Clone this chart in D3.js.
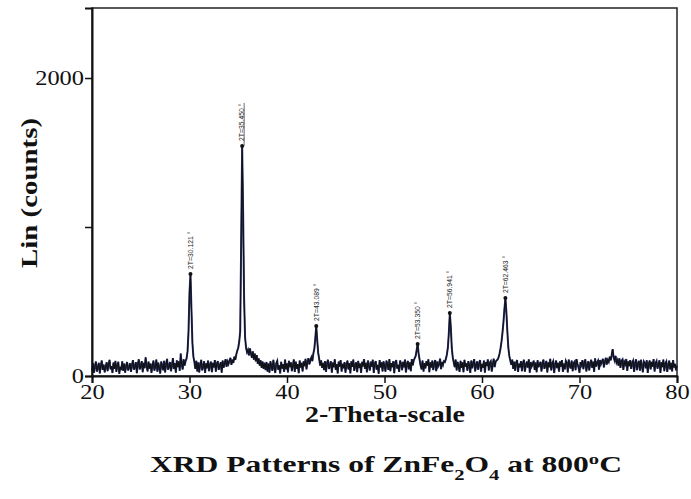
<!DOCTYPE html>
<html>
<head>
<meta charset="utf-8">
<title>XRD Patterns of ZnFe2O4 at 800°C</title>
<script src="https://cdn.jsdelivr.net/npm/d3@7"></script>
<style>
    body { margin: 0; background: #fff; }
    svg { display: block; }
    .peak-label { font-family: 'Liberation Sans', Arial, sans-serif; font-size: 6.8px; fill: #222; }
    .title { font-family: 'Liberation Serif', 'Times New Roman', serif; font-weight: bold; fill: #111; }
</style>
</head>
<body>
<svg></svg>
<script>
// 2-theta grid of the scan
const THETA_START = 20,
    THETA_STEP = 0.1;

// counts, one row per 2 degrees
const counts = [
    38, 85, 22, 64, 97, 30, 55, 88, 18, 70, 104, 41, 76, 25, 60, 92, 33, 80, 108, 45,
    66, 20, 90, 48, 101, 28, 73, 95, 15, 62, 40, 99, 35, 84, 23, 68, 94, 37, 58, 86,
    27, 75, 106, 42, 61, 93, 19, 80, 112, 44, 67, 100, 26, 88, 52, 125, 70, 31, 96, 50,
    83, 21, 71, 103, 36, 64, 110, 29, 90, 55, 17, 97, 68, 39, 102, 24, 78, 115, 43, 65,
    94, 32, 74, 120, 47, 86, 23, 105, 60, 98, 35, 150, 79, 44, 112, 70, 101, 118, 165, 300,
    560, 685, 450, 220, 130, 95, 48, 102, 30, 91, 24, 77, 108, 38, 63, 99, 21, 85, 52, 104,
    33, 74, 96, 26, 89, 57, 107, 29, 81, 100, 41, 69, 93, 22, 103, 56, 84, 113, 62, 97,
    80, 104, 122, 75, 110, 88, 130, 108, 145, 170, 190, 230, 300, 900, 1544, 1100, 520, 260, 190, 160,
    175, 138, 185, 150, 122, 165, 110, 150, 98, 140, 82, 118, 70, 105, 55, 96, 48, 88, 40, 94,
    30, 83, 22, 99, 64, 35, 108, 58, 20, 86, 101, 42, 72, 18, 95, 50, 79, 28, 110, 45,
    85, 24, 102, 60, 92, 33, 71, 111, 27, 96, 49, 80, 19, 104, 57, 88, 31, 99, 66, 115,
    45, 94, 120, 78, 106, 125, 100, 150, 180, 250, 336, 240, 155, 115, 70, 105, 55, 88, 40, 100,
    28, 84, 109, 47, 72, 99, 23, 90, 59, 112, 41, 80, 17, 97, 63, 106, 30, 82, 52, 93,
    22, 76, 103, 44, 87, 18, 99, 61, 110, 34, 73, 91, 26, 101, 54, 84, 20, 95, 65, 113,
    48, 89, 25, 104, 70, 37, 96, 62, 109, 21, 82, 100, 43, 74, 16, 107, 58, 92, 31, 98,
    67, 29, 103, 79, 41, 114, 33, 86, 60, 99, 19, 90, 106, 50, 75, 27, 104, 83, 39, 95,
    58, 110, 24, 80, 101, 45, 92, 32, 113, 71, 105, 120, 135, 175, 215, 150, 110, 70, 45, 104,
    30, 87, 51, 99, 69, 112, 26, 91, 57, 103, 40, 82, 107, 33, 97, 64, 79, 116, 46, 94,
    75, 100, 95, 115, 145, 190, 290, 423, 330, 190, 125, 92, 60, 110, 38, 95, 66, 28, 102, 55,
    92, 25, 108, 63, 84, 36, 100, 71, 21, 104, 52, 88, 113, 31, 74, 98, 42, 85, 107, 29,
    81, 55, 103, 23, 94, 67, 111, 38, 89, 99, 30, 77, 116, 60, 96, 105, 110, 125, 150, 185,
    230, 290, 360, 450, 523, 430, 300, 190, 135, 105, 76, 110, 48, 96, 35, 89, 107, 27, 83, 58,
    100, 33, 86, 109, 29, 73, 97, 56, 112, 22, 94, 64, 80, 103, 41, 90, 26, 106, 60, 79,
    95, 31, 83, 110, 48, 72, 101, 24, 91, 59, 115, 37, 85, 99, 20, 76, 104, 53, 88, 30,
    98, 62, 107, 27, 84, 45, 102, 89, 24, 110, 70, 51, 104, 32, 87, 96, 39, 113, 78, 57,
    22, 93, 74, 106, 46, 88, 112, 30, 73, 99, 38, 85, 109, 55, 96, 28, 118, 63, 90, 103,
    42, 107, 80, 97, 115, 58, 93, 122, 77, 108, 95, 130, 105, 140, 180, 125, 104, 135, 90, 106,
    70, 118, 55, 100, 110, 41, 94, 79, 114, 34, 99, 66, 107, 48, 90, 103, 28, 85, 112, 39,
    83, 101, 36, 109, 69, 25, 98, 88, 52, 106, 21, 80, 104, 45, 95, 63, 113, 30, 86, 100,
    49, 78, 105, 20, 92, 60, 110, 33, 84, 97, 27, 73, 103, 44, 89, 31, 107, 57, 81, 38,
    70
];

// marked peaks
const peakTheta = [30.1, 35.4, 43.0, 53.4, 56.7, 62.4];
const peakCounts = [685, 1544, 336, 215, 423, 523];
const peakLabels = ['2T=30.121 °', '2T=35.450 °', '2T=43.089 °', '2T=53.350 °', '2T=56.941 °', '2T=62.463 °'];

// axes
const xTicks = [20, 30, 40, 50, 60, 70, 80];
const yTicks = [0, 1000, 2000];
const yTickLabels = ['0', '', '2000'];

var margin = {top: 8, right: 14, bottom: 123, left: 92},
    width = 691 - margin.left - margin.right,
    height = 499 - margin.top - margin.bottom;

var data = counts.map(function(c, i) {
    return {theta: THETA_START + i * THETA_STEP, count: c};
});

var svg = d3.select('svg')
    .attr('width', width + margin.left + margin.right)
    .attr('height', height + margin.top + margin.bottom);

var chart = svg.append('g')
    .attr('transform', 'translate(' + margin.left + ',' + margin.top + ')');

var x = d3.scaleLinear()
    .domain([20, 80])
    .range([0, width]);

var y = d3.scaleLinear()
    .domain([0, 2470])
    .range([height, 0]);

// frame
chart.append('rect')
    .attr('width', width)
    .attr('height', height)
    .attr('fill', 'none')
    .attr('stroke', '#222')
    .attr('stroke-width', 1.5);

var line = d3.line()
    .x(function(d) { return x(d.theta); })
    .y(function(d) { return y(d.count); });

chart.append('path')
    .datum(data)
    .attr('fill', 'none')
    .attr('stroke', '#2b3575')
    .attr('stroke-width', 2)
    .attr('d', line);

chart.append('path')
    .datum(data)
    .attr('fill', 'none')
    .attr('stroke', '#111')
    .attr('stroke-width', 1.1)
    .attr('d', line);

// peak markers and labels
var peaks = chart.selectAll('.peak')
    .data(peakTheta)
    .enter().append('g')
    .attr('class', 'peak');

peaks.append('circle')
    .attr('cx', function(d) { return x(d); })
    .attr('cy', function(d, i) { return y(peakCounts[i]); })
    .attr('r', 2)
    .attr('fill', '#111');

peaks.append('text')
    .attr('class', 'peak-label')
    .attr('transform', function(d, i) {
        return 'translate(' + (x(d) + 2.3) + ',' + (y(peakCounts[i]) - 5) + ') rotate(-90)';
    })
    .text(function(d, i) { return peakLabels[i]; });

// leader line of the main peak
chart.append('line')
    .attr('x1', x(peakTheta[1]) + 2)
    .attr('x2', x(peakTheta[1]) + 2)
    .attr('y1', y(peakCounts[1]))
    .attr('y2', y(peakCounts[1]) - 43)
    .attr('stroke', '#444')
    .attr('stroke-width', 0.8);

function styleAxis(g) {
    g.attr('font-family', null).attr('font-size', null);
    g.select('.domain').attr('stroke', '#111').attr('stroke-width', 2);
    g.selectAll('.tick line').attr('stroke', '#111').attr('stroke-width', 1.5);
    g.selectAll('.tick text')
        .attr('font-family', 'Liberation Serif, serif')
        .style('font-family', "'Liberation Serif', 'Times New Roman', serif")
        .style('font-size', '21px')
        .attr('fill', '#111')
        .attr('lengthAdjust', 'spacingAndGlyphs')
        .attr('textLength', function() { return this.textContent.length * 12.2; });
}

chart.append('g')
    .attr('class', 'axis')
    .attr('transform', 'translate(0,' + height + ')')
    .call(d3.axisBottom(x).tickValues(xTicks).tickSize(7).tickPadding(1).tickFormat(d3.format('d')))
    .call(styleAxis);

chart.append('g')
    .attr('class', 'axis')
    .call(d3.axisLeft(y).tickValues(yTicks).tickSize(7).tickPadding(1)
        .tickFormat(function(d, i) { return yTickLabels[i]; }))
    .call(styleAxis);

// titles
svg.append('text')
    .attr('class', 'title')
    .attr('transform', 'translate(37,193) rotate(-90)')
    .attr('text-anchor', 'middle')
    .attr('lengthAdjust', 'spacingAndGlyphs')
    .attr('textLength', 150)
    .style('font-size', '24px')
    .text('Lin (counts)');

svg.append('text')
    .attr('class', 'title')
    .attr('x', 385)
    .attr('y', 422)
    .attr('text-anchor', 'middle')
    .attr('lengthAdjust', 'spacingAndGlyphs')
    .attr('textLength', 160)
    .style('font-size', '23px')
    .text('2-Theta-scale');

var title = svg.append('text')
    .attr('class', 'title')
    .attr('x', 386)
    .attr('y', 472)
    .attr('text-anchor', 'middle')
    .attr('lengthAdjust', 'spacingAndGlyphs')
    .attr('textLength', 472)
    .style('font-size', '23px');
title.append('tspan').text('XRD Patterns of ZnFe');
title.append('tspan').attr('baseline-shift', 'sub').style('font-size', '15px').text('2');
title.append('tspan').text('O');
title.append('tspan').attr('baseline-shift', 'sub').style('font-size', '15px').text('4');
title.append('tspan').text(' at 800');
title.append('tspan').attr('baseline-shift', 'super').style('font-size', '15px').text('o');
title.append('tspan').text('C');
</script>
</body>
</html>
